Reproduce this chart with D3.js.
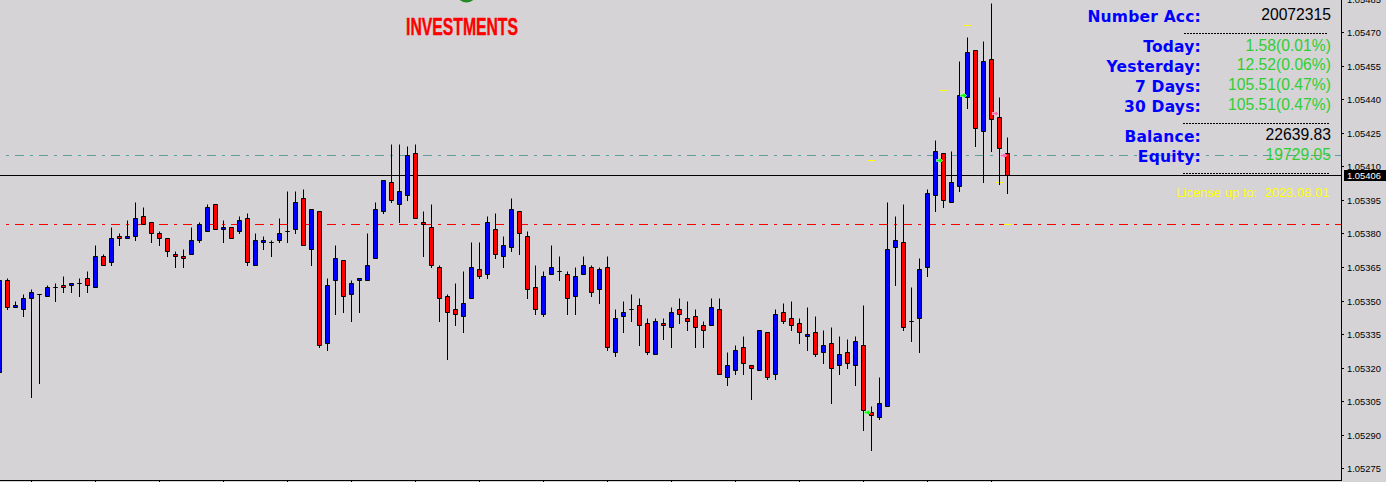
<!DOCTYPE html>
<html><head><meta charset="utf-8">
<script src="https://cdn.jsdelivr.net/npm/d3@7/dist/d3.min.js"></script>
<style>
html,body{margin:0;padding:0;background:#d5d3d6;overflow:hidden}
svg{display:block}
</style></head><body>
<svg id="c" width="1386" height="482"></svg>
<script>
const firstBar = -1;
const opens = [1.05318,1.05359,1.05347,1.05346,1.05351,1.05353,1.05352,1.05356,1.05357,1.05357,1.05358,1.05360,1.05356,1.05370,1.05367,1.05379,1.05378,1.05379,1.05388,1.05385,1.05380,1.05378,1.05371,1.05370,1.05371,1.05377,1.05381,1.05393,1.05382,1.05383,1.05381,1.05387,1.05366,1.05376,1.05376,1.05377,1.05381,1.05382,1.05396,1.05373,1.05390,1.05331,1.05359,1.05368,1.05353,1.05359,1.05359,1.05369,1.05390,1.05403,1.05393,1.05397,1.05416,1.05385,1.05383,1.05365,1.05352,1.05346,1.05343,1.05351,1.05364,1.05362,1.05382,1.05370,1.05374,1.05390,1.05379,1.05356,1.05344,1.05362,1.05363,1.05362,1.05352,1.05362,1.05365,1.05355,1.05365,1.05327,1.05343,1.05346,1.05348,1.05340,1.05326,1.05340,1.05338,1.05346,1.05342,1.05343,1.05339,1.05339,1.05346,1.05316,1.05319,1.05329,1.05321,1.05319,1.05336,1.05317,1.05345,1.05342,1.05340,1.05334,1.05336,1.05327,1.05331,1.05321,1.05327,1.05321,1.05330,1.05300,1.05298,1.05303,1.05374,1.05376,1.05341,1.05342,1.05365,1.05397,1.05416,1.05394,1.05401,1.05441,1.05462,1.05426,1.05458,1.05432,1.05416];
const highs = [1.05359,1.05360,1.05350,1.05353,1.05355,1.05353,1.05357,1.05358,1.05361,1.05358,1.05360,1.05363,1.05375,1.05371,1.05383,1.05380,1.05386,1.05394,1.05392,1.05385,1.05381,1.05378,1.05372,1.05373,1.05383,1.05385,1.05393,1.05393,1.05386,1.05383,1.05388,1.05389,1.05380,1.05379,1.05377,1.05387,1.05399,1.05399,1.05400,1.05391,1.05390,1.05360,1.05375,1.05368,1.05359,1.05360,1.05380,1.05394,1.05404,1.05420,1.05420,1.05419,1.05420,1.05390,1.05393,1.05366,1.05353,1.05358,1.05363,1.05376,1.05376,1.05388,1.05389,1.05379,1.05396,1.05390,1.05381,1.05366,1.05363,1.05375,1.05370,1.05363,1.05365,1.05370,1.05366,1.05365,1.05370,1.05346,1.05350,1.05353,1.05351,1.05342,1.05342,1.05342,1.05347,1.05351,1.05350,1.05346,1.05341,1.05351,1.05351,1.05327,1.05330,1.05334,1.05321,1.05337,1.05336,1.05346,1.05349,1.05350,1.05342,1.05347,1.05343,1.05337,1.05338,1.05334,1.05333,1.05334,1.05348,1.05303,1.05316,1.05394,1.05388,1.05393,1.05356,1.05369,1.05400,1.05422,1.05416,1.05417,1.05457,1.05468,1.05462,1.05466,1.05483,1.05441,1.05423];
const lows = [1.05318,1.05346,1.05347,1.05343,1.05307,1.05313,1.05352,1.05350,1.05354,1.05354,1.05352,1.05354,1.05356,1.05366,1.05366,1.05375,1.05378,1.05377,1.05384,1.05376,1.05375,1.05370,1.05365,1.05365,1.05371,1.05376,1.05381,1.05382,1.05376,1.05378,1.05380,1.05366,1.05366,1.05373,1.05370,1.05376,1.05376,1.05380,1.05375,1.05366,1.05329,1.05328,1.05344,1.05345,1.05341,1.05345,1.05359,1.05369,1.05389,1.05394,1.05385,1.05395,1.05387,1.05370,1.05365,1.05341,1.05324,1.05339,1.05336,1.05351,1.05360,1.05360,1.05369,1.05365,1.05372,1.05371,1.05351,1.05344,1.05343,1.05362,1.05359,1.05344,1.05344,1.05362,1.05352,1.05349,1.05328,1.05325,1.05336,1.05341,1.05330,1.05326,1.05326,1.05333,1.05329,1.05340,1.05337,1.05329,1.05329,1.05339,1.05317,1.05312,1.05317,1.05317,1.05306,1.05319,1.05315,1.05315,1.05340,1.05337,1.05331,1.05328,1.05325,1.05322,1.05304,1.05317,1.05320,1.05312,1.05292,1.05283,1.05297,1.05303,1.05357,1.05337,1.05332,1.05327,1.05361,1.05390,1.05392,1.05394,1.05399,1.05436,1.05419,1.05403,1.05417,1.05402,1.05398];
const closes = [1.05359,1.05347,1.05348,1.05351,1.05354,1.05353,1.05356,1.05356,1.05356,1.05358,1.05358,1.05357,1.05370,1.05366,1.05378,1.05378,1.05379,1.05387,1.05384,1.05380,1.05378,1.05372,1.05370,1.05369,1.05377,1.05384,1.05392,1.05382,1.05383,1.05378,1.05386,1.05367,1.05377,1.05377,1.05376,1.05380,1.05381,1.05394,1.05375,1.05391,1.05330,1.05357,1.05369,1.05352,1.05358,1.05360,1.05366,1.05391,1.05404,1.05395,1.05399,1.05415,1.05387,1.05384,1.05366,1.05351,1.05345,1.05344,1.05349,1.05365,1.05361,1.05385,1.05371,1.05375,1.05391,1.05380,1.05355,1.05346,1.05361,1.05365,1.05363,1.05351,1.05361,1.05366,1.05354,1.05364,1.05329,1.05342,1.05345,1.05346,1.05339,1.05327,1.05341,1.05339,1.05345,1.05344,1.05341,1.05338,1.05337,1.05347,1.05317,1.05321,1.05328,1.05322,1.05320,1.05337,1.05316,1.05344,1.05341,1.05339,1.05336,1.05335,1.05326,1.05330,1.05320,1.05326,1.05322,1.05332,1.05301,1.05299,1.05304,1.05373,1.05377,1.05338,1.05341,1.05364,1.05398,1.05417,1.05395,1.05403,1.05442,1.05461,1.05427,1.05457,1.05431,1.05418,1.05406];
const priceTicks = [1.05485,1.05470,1.05455,1.05440,1.05425,1.05410,1.05395,1.05380,1.05365,1.05350,1.05335,1.05320,1.05305,1.05290,1.05275];
const timeTickBars = [3,11,19,27,35,43,51,59,67,75,83,91,99,107,115,123];
const bidPrice = 1.05406;
const stopPrice = 1.05384;
const takePrice = 1.05415;
const yellowBars = [120,117,108,124,125];
const yellowPrices = [1.05473,1.05444,1.05413,1.05403,1.05384];
const buyArrowBars = [120,117,108];
const buyArrowPrices = [1.05442,1.05413,1.05300];
const sellArrowBars = [124,125];
const sellArrowPrices = [1.05434,1.05415];
const panelLabels = ["Number Acc:","Today:","Yesterday:","7 Days:","30 Days:","Balance:","Equity:"];
const panelValues = ["20072315","1.58(0.01%)","12.52(0.06%)","105.51(0.47%)","105.51(0.47%)","22639.83","19729.05"];
const licenseText = "License up to:  2023.08.01";
const brandText = "INVESTMENTS";

const W = 1386, H = 482, axisX = 1341.5, axisY = 480.5;
const svg = d3.select("#c");
const x = d3.scaleLinear().domain([-1,125]).range([-0.5,1007.5]);
const y = d3.scaleLinear().domain([1.05275,1.05470]).rangeRound([468.2,32.2]);
const py = p => y(p) + 0.5;
const bars = opens.map((o,i)=>({i:i+firstBar,o,h:highs[i],l:lows[i],c:closes[i]}));

svg.append("rect").attr("width",W).attr("height",H).attr("fill","#d5d3d6");

/* logo fragment at the top edge */
svg.append("ellipse").attr("cx",466.5).attr("cy",-4).attr("rx",8.5).attr("ry",6.5).attr("fill","#228b22");

/* horizontal price lines */
const hline = (p,col,dash)=>svg.append("line").attr("x1",0).attr("x2",axisX).attr("y1",py(p)).attr("y2",py(p))
  .attr("stroke",col).attr("stroke-width",1).attr("stroke-dasharray",dash||null).attr("stroke-dashoffset",9);
hline(takePrice,"#5f9ea0","9,6,3,6");
hline(stopPrice,"#ff0000","9,6,3,6");
hline(bidPrice,"#000000");

/* yellow order marks */
svg.append("g").selectAll("line").data(yellowBars).join("line")
  .attr("x1",b=>x(b)-3.5).attr("x2",b=>x(b)+3.5)
  .attr("y1",(b,i)=>py(yellowPrices[i])).attr("y2",(b,i)=>py(yellowPrices[i]))
  .attr("stroke","#ffff00");

/* candles */
const g = svg.append("g");
g.selectAll("line.w").data(bars).join("line").attr("class","w")
  .attr("x1",d=>x(d.i)).attr("x2",d=>x(d.i)).attr("y1",d=>py(d.h)).attr("y2",d=>py(d.l)+0.5)
  .attr("stroke","#000");
g.selectAll("path.b").data(bars).join("path").attr("class","b")
  .attr("d",d=>{const a=x(d.i)-2,b=x(d.i)+2,t=py(Math.max(d.o,d.c)),u=py(Math.min(d.o,d.c));
    return `M${a},${t}H${b}V${u}H${a}Z`;})
  .attr("fill",d=>d.c>=d.o?"#0000ff":"#ff0000")
  .attr("stroke","#000").attr("stroke-width",1).attr("stroke-linejoin","miter");

/* trade arrows */
const arrow = "M-3,-1H0V-3L3,0L0,3V1H-3Z";
const drawArrows = (bs,ps,col)=>{
  svg.append("g").selectAll("path").data(bs).join("path")
    .attr("d",arrow).attr("transform",(b,i)=>`translate(${x(b)-4},${py(ps[i])})`)
    .attr("fill",col).attr("stroke","#fff").attr("stroke-width",0.8).attr("paint-order","stroke");
};
drawArrows(buyArrowBars,buyArrowPrices,"#00ff00");
drawArrows(sellArrowBars,sellArrowPrices,"#ff69b4");

/* axes */
const axisFont = "'Liberation Sans',Arial,sans-serif";
const ya = svg.append("g").attr("transform",`translate(${axisX-0.5},0)`)
  .call(d3.axisRight(y).tickValues(priceTicks).tickFormat(d3.format(".5f")).tickSize(3).tickPadding(3).offset(0.5));
ya.select(".domain").remove();
ya.selectAll("line").attr("stroke","#000");
ya.selectAll("text").attr("fill","#000").attr("font-family",axisFont).attr("font-size",9.4);
const xa = svg.append("g").attr("transform",`translate(0,${axisY-0.5})`)
  .call(d3.axisBottom(x).tickValues(timeTickBars).tickFormat("").tickSize(3).offset(0));
xa.select(".domain").remove();
xa.selectAll("line").attr("stroke","#000");
svg.append("line").attr("x1",axisX).attr("x2",axisX).attr("y1",0).attr("y2",axisY+0.5).attr("stroke","#000");
svg.append("line").attr("x1",0).attr("x2",axisX).attr("y1",axisY).attr("y2",axisY).attr("stroke","#000");

/* current price tag */
svg.append("rect").attr("x",1344).attr("y",py(bidPrice)-5.5).attr("width",42).attr("height",11).attr("fill","#000");
svg.append("text").attr("x",1347).attr("y",py(bidPrice)+3.3).attr("fill","#fff")
  .attr("font-family",axisFont).attr("font-size",9.4).text(d3.format(".5f")(bidPrice));

/* brand */
svg.append("text").attr("x",406).attr("y",34.7).attr("fill","#ff0000").attr("stroke","#ff0000").attr("stroke-width",0.4)
  .attr("font-family","'Liberation Sans Narrow','Liberation Sans',sans-serif").attr("font-weight","bold")
  .attr("font-size",24).attr("textLength",112).attr("lengthAdjust","spacingAndGlyphs").text(brandText);

/* account panel */
const labelBase = [21.7,52,72,92,112,142,162];
const valueBase = [19.5,50.5,70,90,110,139.5,159.5];
const valueFill = ["#000","#32cd32","#32cd32","#32cd32","#32cd32","#000","#32cd32"];
svg.append("g").selectAll("text").data(panelLabels).join("text")
  .attr("x",1201).attr("y",(d,i)=>labelBase[i]).attr("text-anchor","end")
  .attr("font-family","'DejaVu Sans',Verdana,sans-serif").attr("font-weight","bold").attr("font-size",15.5)
  .attr("letter-spacing",0.2).attr("fill","#0000ff").text(d=>d);
svg.append("g").selectAll("text").data(panelValues).join("text")
  .attr("x",1331).attr("y",(d,i)=>valueBase[i]).attr("text-anchor","end")
  .attr("font-family",axisFont).attr("font-size",15.7).attr("fill",(d,i)=>valueFill[i]).text(d=>d);
const rules = [[1184,1327,33.5],[1183,1330,123.5],[1183,1330,173.5]];
svg.append("g").selectAll("line").data(rules).join("line")
  .attr("x1",d=>d[0]).attr("x2",d=>d[1]).attr("y1",d=>d[2]).attr("y2",d=>d[2])
  .attr("stroke","#000").attr("stroke-dasharray","2,1");
svg.append("text").attr("x",1329.5).attr("y",197.3).attr("text-anchor","end").style("white-space","pre")
  .attr("font-family",axisFont).attr("font-size",13).attr("fill","#ffff00").text(licenseText);
</script>
</body></html>
